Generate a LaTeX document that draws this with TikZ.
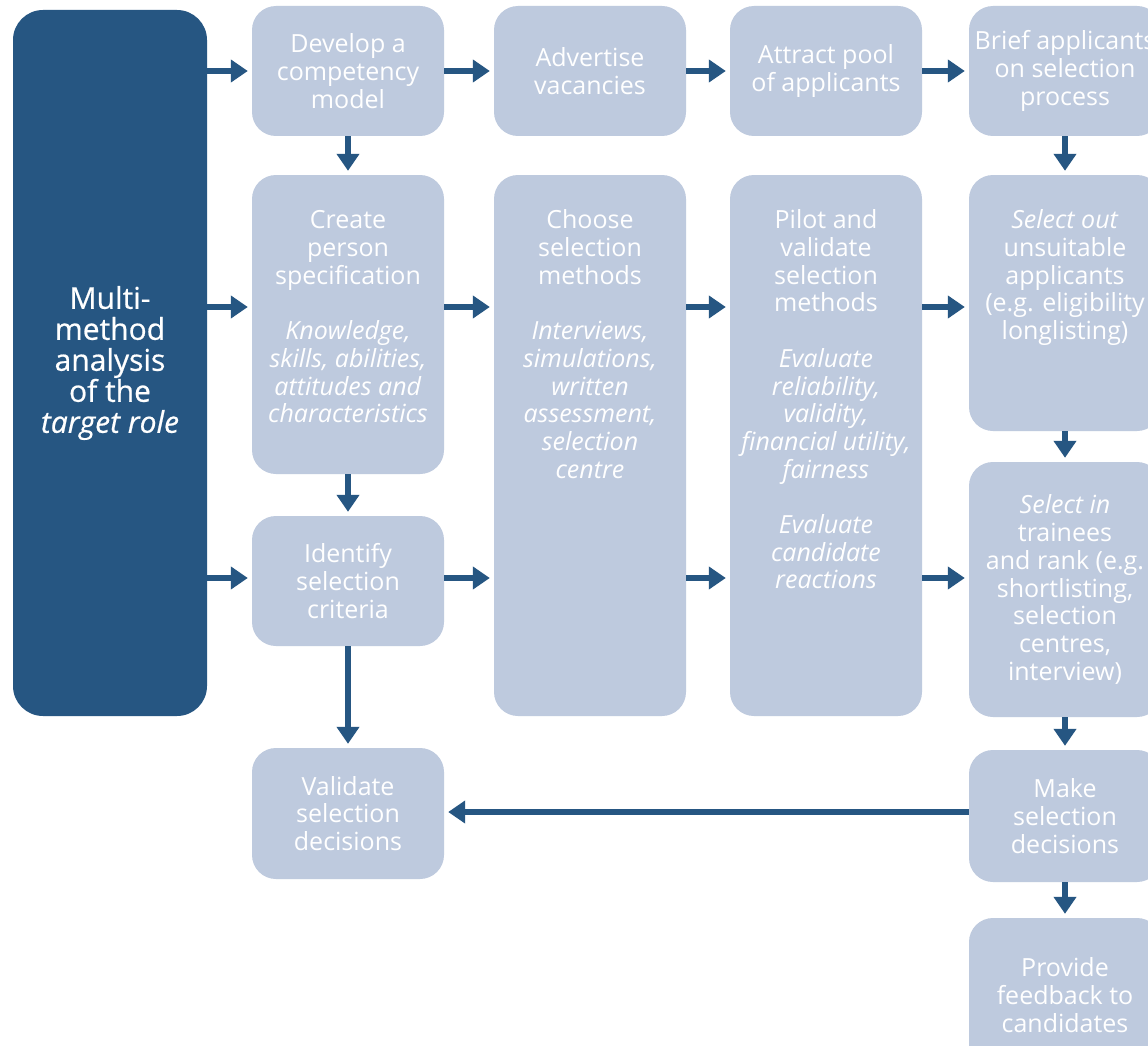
\documentclass[tikz,border=0pt]{standalone}
\usepackage{fontspec}
\setmainfont{Open Sans}
\newfontfamily\medfont{Open Sans}[FakeBold=0.6]
\usetikzlibrary{arrows.meta}
\definecolor{darkc}{RGB}{38,86,130}
\definecolor{lightc}{RGB}{190,202,222}
\newcommand\topbox[4]{\parbox[c][#2][t]{#1}{\centering\vspace*{#3}\strut #4}}
\begin{document}
\begin{tikzpicture}[x=1pt,y=-1pt,
  lbox/.style={fill=lightc, rounded corners=24pt, inner sep=0pt, text=white,
    align=center, font=\fontsize{25pt}{27.7pt}\selectfont},
  dbox/.style={fill=darkc, rounded corners=30pt, inner sep=0pt, text=white,
    align=center, font=\medfont\fontsize{30pt}{31pt}\selectfont},
  arr/.style={draw=darkc, line width=6.5pt, -{Triangle[width=22pt,length=17pt]}, shorten >=4pt}
]
\useasboundingbox (0,0) rectangle (1148,1046);
\fill[white] (0,0) rectangle (1148,1046);
\clip (0,0) rectangle (1148,1046);

% left dark box
\node[dbox, minimum width=194pt, minimum height=706pt] (target) at (110,363)
  {Multi-\\method\\analysis\\of the\\\textit{target role}};

% column 2
\node[lbox, minimum width=192pt, minimum height=130pt] (develop) at (348,71)
  {Develop a\\competency\\model};
\node[lbox] (create) at (348,324.5)
  {\topbox{192pt}{299pt}{34.5pt}{Create\\person\\specification\\[27.7pt]
   \textit{Knowledge,}\\\textit{skills, abilities,}\\\textit{attitudes and}\\\textit{characteristics}}};
\node[lbox, minimum width=192pt, minimum height=130pt] (identify) at (348,581)
  {Identify\\selection\\criteria};
\node[lbox, minimum width=192pt, minimum height=131pt] (validate) at (348,813.5)
  {Validate\\selection\\decisions};

% column 3
\node[lbox, minimum width=192pt, minimum height=130pt] (advertise) at (590,71)
  {Advertise\\vacancies};
\node[lbox] (choose) at (590,445.5)
  {\topbox{192pt}{541pt}{34.5pt}{Choose\\selection\\methods\\[27.7pt]
   \textit{Interviews,}\\\textit{simulations,}\\\textit{written}\\\textit{assessment,}\\\textit{selection}\\\textit{centre}}};

% column 4
\node[lbox, minimum width=192pt, minimum height=130pt] (attract) at (826,71)
  {Attract pool\\of applicants};
\node[lbox] (pilot) at (826,445.5)
  {\topbox{192pt}{541pt}{34.5pt}{Pilot and\\validate\\selection\\methods\\[27.7pt]
   \textit{Evaluate}\\\textit{reliability,}\\\textit{validity,}\\\textit{financial utility,}\\\textit{fairness}\\[27.7pt]
   \textit{Evaluate}\\\textit{candidate}\\\textit{reactions}}};

% column 5
\node[lbox, minimum width=192pt, minimum height=130pt] (brief) at (1065,71)
  {Brief applicants\\on selection\\process};
\node[lbox] (selout) at (1065,303)
  {\topbox{192pt}{256pt}{34.5pt}{\textit{Select out}\\unsuitable\\applicants\\(e.g. eligibility\\longlisting)}};
\node[lbox, minimum width=192pt, minimum height=255pt] (selin) at (1065,589.5)
  {\textit{Select in}\\trainees\\and rank (e.g.\\shortlisting,\\selection\\centres,\\interview)};
\node[lbox, minimum width=192pt, minimum height=132pt] (make) at (1065,816)
  {Make\\selection\\decisions};
\node[lbox, minimum width=192pt, minimum height=154pt] (provide) at (1065,995)
  {Provide\\feedback to\\candidates};

% connector rows
\coordinate (r2) at (0,307);
\coordinate (r3) at (0,578);
\coordinate (r4) at (0,812);

\draw[arr] (target.east |- develop.west) -- (develop.west);
\draw[arr] (target.east |- r2) -- (create.west |- r2);
\draw[arr] (target.east |- r3) -- (identify.west |- r3);

\draw[arr] (develop.east) -- (advertise.west);
\draw[arr] (advertise.east) -- (attract.west);
\draw[arr] (attract.east) -- (brief.west);

\draw[arr] (develop.south) -- (create.north);
\draw[arr] (create.south) -- (identify.north);
\draw[arr] (identify.south) -- (validate.north);

\draw[arr] (create.east |- r2) -- (choose.west |- r2);
\draw[arr] (choose.east |- r2) -- (pilot.west |- r2);
\draw[arr] (pilot.east |- r2) -- (selout.west |- r2);
\draw[arr] (identify.east |- r3) -- (choose.west |- r3);
\draw[arr] (choose.east |- r3) -- (pilot.west |- r3);
\draw[arr] (pilot.east |- r3) -- (selin.west |- r3);

\draw[arr] (brief.south) -- (selout.north);
\draw[arr] (selout.south) -- (selin.north);
\draw[arr] (selin.south) -- (make.north);
\draw[arr] (make.south) -- (provide.north);
\draw[arr] (make.west |- r4) -- (validate.east |- r4);
\end{tikzpicture}
\end{document}
